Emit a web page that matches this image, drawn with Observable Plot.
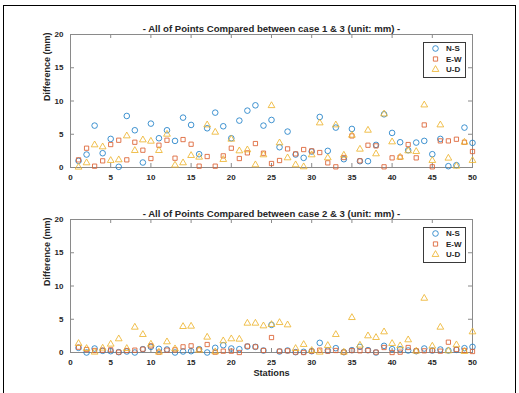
<!DOCTYPE html>
<html>
<head>
<meta charset="utf-8">
<script src="https://cdn.jsdelivr.net/npm/d3@7"></script>
<script src="https://cdn.jsdelivr.net/npm/@observablehq/plot@0.6"></script>
<style>
  body { margin: 0; background: #fff; }
  #fig { position: relative; width: 519px; height: 393px; overflow: hidden; background: #fff;
         font-family: "Liberation Sans", Arial, sans-serif; }
  #outline { position: absolute; left: 3px; top: 5px; width: 511px; height: 420px; border: 1px solid #000; }
  .panel { position: absolute; left: 0; }
  .legend { position: absolute; left: 423px; }
</style>
</head>
<body>
<div id="fig">
  <div id="outline"></div>
  <div id="p1" class="panel" style="top:0px"></div>
  <div id="p2" class="panel" style="top:185px"></div>
</div>
<script>
// ---------- data ----------
const stations = [1,2,3,4,5,6,7,8,9,10,11,12,13,14,15,16,17,18,19,20,21,22,23,24,25,
                  26,27,28,29,30,31,32,33,34,35,36,37,38,39,40,41,42,43,44,45,46,47,48,49,50];
const xTicks = [0,5,10,15,20,25,30,35,40,45,50];
const yTicks = [0,5,10,15,20];
const seriesNames = ["N-S","E-W","U-D"];
const seriesColors = ["#1f80c8","#dc6030","#edb530"];
const seriesSymbols = ["circle","square","triangle"];
const titles = ["- All of Points Compared between case 1 & 3 (unit: mm) -",
                "- All of Points Compared between case 2 & 3 (unit: mm) -"];
const yLabel = "Difference (mm)";
const xLabel = "Stations";

// case 1 & 3
const ns13 = [1.0,1.95,6.3,2.15,4.3,0.1,7.75,5.6,0.75,6.6,4.4,5.6,4.0,7.5,6.4,2.0,5.9,8.25,6.2,4.4,
              7.05,8.55,9.35,6.3,7.15,3.05,5.4,1.95,1.45,2.4,7.6,2.5,6.0,1.25,5.8,0.95,0.95,3.4,8.0,5.2,
              3.8,2.6,3.75,4.0,2.0,4.3,0.2,0.35,6.0,3.7];
const ew13 = [1.15,2.9,0.2,1.0,3.45,4.1,1.15,3.8,2.6,1.35,3.35,4.1,1.4,4.2,3.5,0.2,1.65,0.2,1.75,2.9,
              1.35,2.2,3.6,2.15,0.6,1.05,2.8,2.05,2.7,2.5,2.25,0.7,0.1,1.5,4.75,1.0,3.35,3.25,0.1,1.45,
              1.55,3.45,1.45,6.4,0.1,4.0,4.0,4.25,3.8,2.4];
const ud13 = [0.05,0.7,3.4,3.1,1.05,1.15,4.75,2.55,4.15,3.95,2.55,5.0,0.35,0.7,1.8,1.55,6.4,5.3,1.2,4.25,
              2.5,2.65,0.4,1.9,9.3,3.7,1.45,0.4,0.1,1.9,6.7,1.45,6.4,1.85,4.85,2.75,5.6,2.05,8.05,3.85,
              1.55,2.5,2.4,9.4,1.05,6.4,1.4,0.2,3.8,1.05];
// case 2 & 3
const ns23 = [0.7,0.0,0.6,0.25,0.2,0.05,0.15,0.0,0.5,0.85,0.55,0.45,0.0,0.15,0.2,0.5,0.0,0.7,1.1,0.6,
              0.5,0.9,0.85,0.3,4.15,0.15,0.3,0.05,0.1,0.2,1.45,0.3,0.65,0.05,0.35,0.85,0.35,0.0,1.0,0.5,
              0.5,0.3,0.2,0.6,0.3,0.45,0.3,0.4,0.65,0.85];
const ew23 = [0.8,0.45,0.3,0.35,0.4,0.05,0.3,0.35,0.5,1.0,0.05,0.35,0.4,0.85,1.0,0.4,1.2,0.05,0.2,0.2,
              0.0,0.95,0.85,0.3,2.25,0.2,0.25,0.05,0.0,0.2,0.35,0.2,0.3,0.05,0.3,0.25,0.3,0.05,0.75,0.0,
              0.05,0.75,0.25,0.25,0.3,0.2,1.55,0.45,0.3,0.15];
const ud23 = [1.35,0.6,0.05,0.65,1.25,2.05,0.6,3.8,2.7,1.25,0.05,1.6,0.55,3.9,3.95,0.35,2.3,0.1,1.75,2.05,
              2.0,4.4,4.4,4.0,4.2,4.5,4.15,0.6,1.2,0.3,0.05,1.05,2.7,0.05,5.25,1.1,2.5,2.25,3.1,1.35,
              1.0,1.9,0.2,8.15,0.95,3.8,0.25,1.15,0.15,3.1];

// ---------- drawing ----------
const FONT = '"Liberation Sans", Arial, sans-serif';
const INK = "#262626";
const BOX = "#8a8a8a";
const symR = [2.8, 2.4, 2.5];
const SW = 0.85;

function panel(title, series, showXLabel) {
  const W = 519, H = showXLabel ? 208 : 185;
  const mt = 34, fh = 133, ml = 70, mr = 47;
  const mb = H - mt - fh;
  const fw = W - ml - mr;
  const rows = stations.map((s, i) => ({station: s, v0: series[0][i], v1: series[1][i], v2: series[2][i]}));
  const marks = [
    Plot.frame({stroke: BOX, strokeWidth: 1}),
    Plot.tickY(yTicks, {y: d => d, insetRight: fw - 4, stroke: BOX}),
    Plot.tickY(yTicks, {y: d => d, insetLeft: fw - 4, stroke: BOX}),
    Plot.tickX(xTicks, {x: d => d, insetBottom: fh - 4, stroke: BOX}),
    Plot.tickX(xTicks, {x: d => d, insetTop: fh - 4, stroke: BOX}),
    Plot.axisX({ticks: xTicks, tickSize: 0, tickPadding: 7, label: null, fill: INK}),
    Plot.axisY({ticks: yTicks, tickSize: 0, tickPadding: 7, label: null, fill: INK}),
    Plot.text([title], {text: d => d, frameAnchor: "top", dy: -9, fontSize: 9.6, fontWeight: "bold", fill: INK}),
    Plot.text([yLabel], {text: d => d, frameAnchor: "left", dx: -23, rotate: -90, fontSize: 9, fontWeight: "bold", fill: INK})
  ];
  if (showXLabel) {
    marks.push(Plot.text([xLabel], {text: d => d, frameAnchor: "bottom", dy: 23, fontSize: 9.2, fontWeight: "bold", fill: INK}));
  }
  for (let k = 0; k < 3; k++) {
    marks.push(Plot.dot(rows, {x: "station", y: "v" + k, symbol: seriesSymbols[k], r: symR[k],
      stroke: seriesColors[k], fill: "none", strokeWidth: SW}));
  }
  return Plot.plot({
    width: W, height: H, marginTop: mt, marginBottom: mb, marginLeft: ml, marginRight: mr,
    x: {domain: [0, 50]},
    y: {domain: [0, 20]},
    style: {fontFamily: FONT, fontSize: "8px", fontWeight: "bold", background: "transparent", color: INK, overflow: "visible"},
    marks
  });
}

function legend(top) {
  const w = 42, h = 35;
  const svg = d3.select("#fig").append("svg").attr("class", "legend")
    .style("top", top + "px").attr("width", w + 1).attr("height", h + 1);
  svg.append("rect").attr("x", 0.5).attr("y", 0.5).attr("width", w).attr("height", h)
    .attr("fill", "#fff").attr("stroke", "#3a3a3a").attr("stroke-width", 1);
  const sym = {circle: d3.symbolCircle, square: d3.symbolSquare, triangle: d3.symbolTriangle};
  seriesNames.forEach((name, i) => {
    const cy = 6.5 + i * 10.5;
    svg.append("path")
      .attr("d", d3.symbol(sym[seriesSymbols[i]], Math.PI * symR[i] * symR[i])())
      .attr("transform", `translate(12.5,${cy})`)
      .attr("fill", "none").attr("stroke", seriesColors[i]).attr("stroke-width", SW);
    svg.append("text").attr("x", 23).attr("y", cy).attr("dy", "0.35em")
      .attr("font-family", FONT).attr("font-size", 8).attr("font-weight", "bold")
      .attr("fill", INK).text(name);
  });
}

document.getElementById("p1").appendChild(panel(titles[0], [ns13, ew13, ud13], false));
document.getElementById("p2").appendChild(panel(titles[1], [ns23, ew23, ud23], true));
legend(42);
legend(227);
</script>
</body>
</html>
